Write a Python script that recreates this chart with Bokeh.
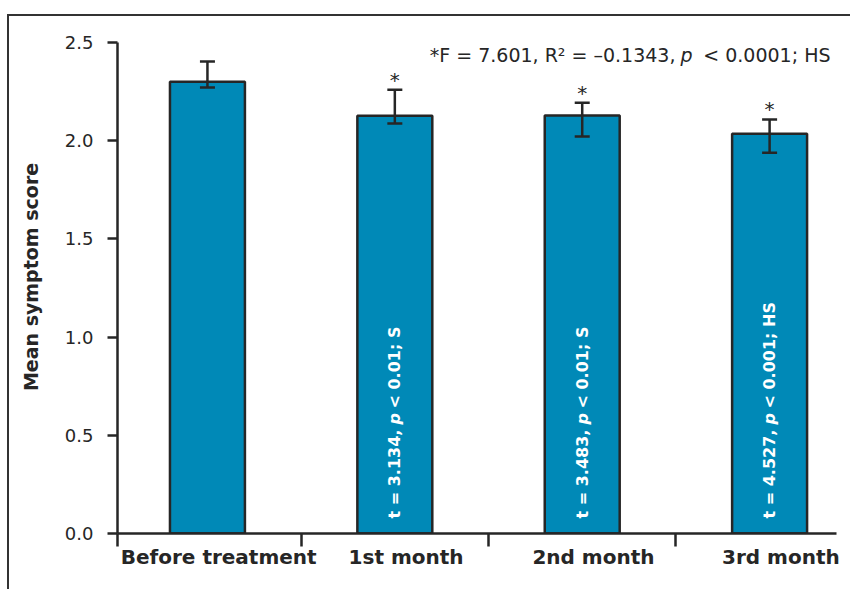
import math

from bokeh.core.properties import value
from bokeh.embed import file_html
from bokeh.models import (ColumnDataSource, FixedTicker, InlineStyleSheet, Label,
                          NumeralTickFormatter, Range1d, TeeHead, Whisker)
from bokeh.plotting import figure
from bokeh.resources import INLINE

# ---- data -------------------------------------------------------------
categories = ["Before treatment", "1st month", "2nd month", "3rd month"]
mean_score = [2.30, 2.127, 2.128, 2.035]
err_upper = [2.403, 2.259, 2.193, 2.108]
err_lower = [2.271, 2.088, 2.021, 1.938]
sig_marks = ["", "*", "*", "*"]

t_values = ["", "3.134", "3.483", "4.527"]
p_limits = ["", "0.01", "0.01", "0.001"]
sig_levels = ["", "S", "S", "HS"]

y_ticks = [0.0, 0.5, 1.0, 1.5, 2.0, 2.5]

anova_f = "7.601"
anova_r2 = "\u20130.1343"
anova_p = "0.0001"
anova_sig = "HS"

# ---- styling / geometry -------------------------------------------------
FONT = "DejaVu Sans"
INK = "#262626"
BAR_FILL = "#0089B7"
LW = 2.5

W, H = 850, 589
FRAME_L, FRAME_R, FRAME_T, FRAME_B = 117, 836, 20, 533
X_START, X_END = -0.48, 3.357
Y_END = 2.612
BAR_WIDTH = 0.4
LABEL_SHIFT = 0.06
MARK_GAP_PX = 10

X_PER_PX = (X_END - X_START) / (FRAME_R - FRAME_L)
Y_PER_PX = Y_END / (FRAME_B - FRAME_T)


def at_x(px):
    """Canvas pixel column -> data x."""
    return X_START + (px - FRAME_L) * X_PER_PX


def at_y(px):
    """Canvas pixel row -> data y."""
    return (FRAME_B - px) * Y_PER_PX


positions = list(range(len(categories)))

src = ColumnDataSource(dict(
    x=positions, mean=mean_score, upper=err_upper, lower=err_lower, mark=sig_marks,
    mark_y=[u + MARK_GAP_PX * Y_PER_PX for u in err_upper],
))

p = figure(
    width=W, height=H,
    x_range=Range1d(X_START, X_END), y_range=Range1d(0, Y_END),
    output_backend="svg", toolbar_location=None,
    min_border_left=FRAME_L, min_border_right=W - FRAME_R,
    min_border_top=FRAME_T, min_border_bottom=H - FRAME_B,
)
p.grid.visible = False
p.outline_line_color = None
p.background_fill_color = "white"
p.border_fill_color = "white"

# outer panel border (left and top edges of the surrounding box)
p.stylesheets = [InlineStyleSheet(css="""
:host { position: relative; }
:host::after {
  content: "";
  position: absolute;
  left: 7px; top: 14px; right: 0; bottom: 0;
  border-left: 2.5px solid #333333;
  border-top: 2.5px solid #333333;
  pointer-events: none;
}
""")]

# bars
p.vbar(x="x", top="mean", bottom=0, width=BAR_WIDTH, source=src,
       fill_color=BAR_FILL, line_color=INK, line_width=LW)

# error bars
whisk = Whisker(base="x", upper="upper", lower="lower", source=src,
                line_color=INK, line_width=LW, level="overlay",
                upper_head=TeeHead(size=15, line_color=INK, line_width=LW),
                lower_head=TeeHead(size=15, line_color=INK, line_width=LW))
p.add_layout(whisk)

# significance asterisks above the error bars
p.text(x="x", y="mark_y", text="mark", source=src,
       text_align="center", text_baseline="alphabetic",
       text_font=value(FONT), text_font_size="20px", text_color=INK)

# rotated t-test annotations inside the bars
rows = [i for i, t in enumerate(t_values) if t]
txt_src = ColumnDataSource(dict(
    x=[positions[i] for i in rows],
    head=[f"t = {t_values[i]}," for i in rows],
    pp=["p" for _ in rows],
    tail=[f"< {p_limits[i]}; {sig_levels[i]}" for i in rows],
))
bar_text = dict(source=txt_src, angle=math.pi / 2, text_align="left",
                text_baseline="middle", text_font=value(FONT),
                text_font_size="16px", text_color="white")
p.text(x="x", y=at_y(518), text="head", text_font_style="bold", **bar_text)
p.text(x="x", y=at_y(424), text="pp", text_font_style="bold italic", **bar_text)
p.text(x="x", y=at_y(408), text="tail", text_font_style="bold", **bar_text)

# ANOVA summary line
lab = dict(y=at_y(54.5), text_baseline="alphabetic", text_font=FONT,
           text_font_size="19px", text_color=INK)
p.add_layout(Label(x=at_x(675), text=f"*F = {anova_f}, R\u00b2 = {anova_r2},",
                   text_align="right", **lab))
p.add_layout(Label(x=at_x(680), text="p", text_align="left",
                   text_font_style="italic", **lab))
p.add_layout(Label(x=at_x(830), text=f"< {anova_p}; {anova_sig}",
                   text_align="right", **lab))

# y axis
yax = p.yaxis[0]
yax.ticker = FixedTicker(ticks=y_ticks, minor_ticks=[])
yax.formatter = NumeralTickFormatter(format="0.0")
yax.bounds = (0, 2.5)
yax.axis_line_color = INK
yax.axis_line_width = LW
yax.major_tick_line_color = INK
yax.major_tick_line_width = LW
yax.major_tick_out = 10
yax.major_tick_in = 0
yax.major_label_standoff = 14
yax.major_label_text_font = FONT
yax.major_label_text_font_size = "18px"
yax.major_label_text_color = INK
yax.axis_label = "Mean symptom score"
yax.axis_label_text_font = FONT
yax.axis_label_text_font_style = "bold"
yax.axis_label_text_font_size = "19px"
yax.axis_label_text_color = INK
yax.axis_label_standoff = 20

# x axis: labels at shifted ticks, boundary marks as minor ticks
label_ticks = [i + LABEL_SHIFT for i in positions]
boundary_ticks = [X_START] + [i + 0.5 for i in positions[:-1]]
xax = p.xaxis[0]
xax.ticker = FixedTicker(ticks=label_ticks, minor_ticks=boundary_ticks)
xax.major_label_overrides = {t: c for t, c in zip(label_ticks, categories)}
xax.axis_line_color = INK
xax.axis_line_width = LW
xax.major_tick_line_color = None
xax.major_tick_out = 0
xax.major_tick_in = 0
xax.minor_tick_line_color = INK
xax.minor_tick_line_width = LW
xax.minor_tick_out = 13
xax.minor_tick_in = 0
xax.major_label_standoff = -2
xax.major_label_text_font = FONT
xax.major_label_text_font_style = "bold"
xax.major_label_text_font_size = "20px"
xax.major_label_text_color = INK

open("out.html", "w").write(file_html(p, INLINE))
